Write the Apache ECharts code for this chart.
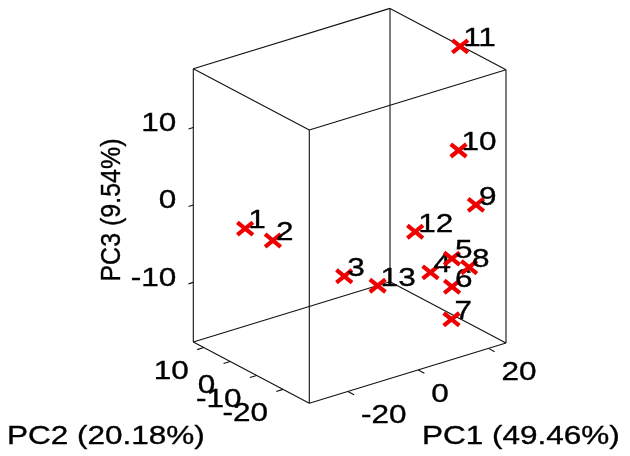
<!DOCTYPE html>
<html><head><meta charset="utf-8">
<script src="https://cdn.jsdelivr.net/npm/echarts@6/dist/echarts.min.js"></script>
<style>html,body{margin:0;padding:0;background:#fff}#c{width:630px;height:456px}</style>
</head><body><div id="c"></div>
<script>
// ---------- data ----------
const sampleIds = ['1','2','3','4','5','6','7','8','9','10','11','12','13'];
const pc1 = [-30.5, -25.6, -17.3, 17.0, 21.6, 19.4, 23.0, 22.0, 24.7, 23.5, 24.7, 10.4, -10.8];
const pc2 = [-5, -9, -25, -12, -14, -17, -12, -20, -19, -14, -13, -15, -29];
const pc3 = [0.3, -1.2, -4.1, -10.7, -9.2, -12.0, -17.6, -9.3, -1.8, 4.5, 17.6, -4.0, -5.5];
const pc1Ticks = [-20, 0, 20];
const pc2Ticks = [-20, -10, 0, 10];
const pc3Ticks = [-10, 0, 10];
const axisTitles = ['PC1 (49.46%)', 'PC2 (20.18%)', 'PC3 (9.54%)'];
const range1 = [-31, 25];
const range2 = [-30, 14];
const range3 = [-17.7, 17.6];

// ---------- camera (oblique projection onto the drawing plane) ----------
const O = [309.3, 403.3];          // corner (PC1 min, PC2 min, PC3 min)
const E1 = [196.7, -60.3];         // full span of PC1
const E2 = [-116, -61.3];          // full span of PC2
const E3 = [0, -273.3];            // full span of PC3
function proj(p1, p2, p3) {
  const a = (p1 - range1[0]) / (range1[1] - range1[0]);
  const b = (p2 - range2[0]) / (range2[1] - range2[0]);
  const c = (p3 - range3[0]) / (range3[1] - range3[0]);
  return [O[0] + a * E1[0] + b * E2[0] + c * E3[0],
          O[1] + a * E1[1] + b * E2[1] + c * E3[1]];
}
function unit(v) { const l = Math.hypot(v[0], v[1]); return [v[0] / l, v[1] / l]; }
const U1 = unit(E1), U2 = unit(E2);

const FONT = '25px "Liberation Sans", Arial, sans-serif';
const SX = 1.26;
const EDGE = '#111';
const TXT = { fill: '#000', stroke: '#000', lineWidth: 0.35 };

// box edges
const edges = [];
const R = [range1, range2, range3];
for (let i = 0; i < 8; i++) {
  for (let k = 0; k < 3; k++) {
    if (i & (1 << k)) continue;
    const j = i | (1 << k);
    const ci = [0, 1, 2].map(d => R[d][(i >> d) & 1]);
    const cj = [0, 1, 2].map(d => R[d][(j >> d) & 1]);
    edges.push([...proj(...ci), ...proj(...cj)]);
  }
}

function tickSeries(data, dir, len, lab) {
  return {
    type: 'custom', coordinateSystem: 'cartesian2d', clip: false, silent: true,
    encode: { x: 0, y: 1 }, data: data,
    renderItem: (params, api) => {
      const ex = api.value(0), ey = api.value(1);
      const p = api.coord([ex, ey]);
      const q = api.coord([ex + dir[0] * len, ey + dir[1] * len]);
      const t = api.coord([ex + lab.dx, ey + lab.dy]);
      return { type: 'group', children: [
        { type: 'line', shape: { x1: p[0], y1: p[1], x2: q[0], y2: q[1] }, style: { stroke: EDGE, lineWidth: 1.1 } },
        { type: 'text', x: t[0], y: t[1], scaleX: SX,
          style: Object.assign({ text: String(api.value(2)), font: FONT, align: lab.align, verticalAlign: 'middle' }, TXT) }
      ]};
    }
  };
}

const t1 = pc1Ticks.map(v => [...proj(v, range2[0], range3[0]), v]);
const t2 = pc2Ticks.map(v => [...proj(range1[0], v, range3[0]), v]);
const t3 = pc3Ticks.map(v => [...proj(range1[0], range2[1], v), v]);
const pts = pc1.map((v, i) => [...proj(pc1[i], pc2[i], pc3[i]), i]);

const chart = echarts.init(document.getElementById('c'), null, { renderer: 'canvas' });
chart.setOption({
  animation: false,
  backgroundColor: '#fff',
  grid: { left: 0, right: 0, top: 0, bottom: 0 },
  xAxis: { type: 'value', min: 0, max: 630, show: false },
  yAxis: { type: 'value', min: 0, max: 456, inverse: true, show: false },
  series: [
    {
      type: 'custom', coordinateSystem: 'cartesian2d', clip: false, silent: true,
      encode: { x: [0, 2], y: [1, 3] }, data: edges,
      renderItem: (params, api) => {
        const p = api.coord([api.value(0), api.value(1)]);
        const q = api.coord([api.value(2), api.value(3)]);
        return { type: 'line', shape: { x1: p[0], y1: p[1], x2: q[0], y2: q[1] }, style: { stroke: EDGE, lineWidth: 1.1 } };
      }
    },
    tickSeries(t1, [-U2[0], -U2[1]], 7, { dx: 13, dy: 25, align: 'left' }),
    tickSeries(t2, [-U1[0], -U1[1]], 7, { dx: -15, dy: 25, align: 'right' }),
    tickSeries(t3, [-U1[0], -U1[1]], 5, { dx: -17, dy: -3.5, align: 'right' }),
    {
      type: 'custom', coordinateSystem: 'cartesian2d', clip: false, silent: true,
      encode: { x: 0, y: 1 }, data: pts,
      renderItem: (params, api) => {
        const c = api.coord([api.value(0), api.value(1)]);
        const hx = 7.8, hy = 6.3;
        const st = { stroke: '#ee0000', lineWidth: 4.2 };
        return { type: 'group', children: [
          { type: 'line', shape: { x1: c[0] - hx, y1: c[1] - hy, x2: c[0] + hx, y2: c[1] + hy }, style: st },
          { type: 'line', shape: { x1: c[0] - hx, y1: c[1] + hy, x2: c[0] + hx, y2: c[1] - hy }, style: st },
          { type: 'text', x: c[0] + 3, y: c[1] - 7, scaleX: SX,
            style: Object.assign({ text: sampleIds[api.value(2)], font: FONT, align: 'left', verticalAlign: 'middle' }, TXT) }
        ]};
      }
    }
  ],
  graphic: [
    { type: 'text', x: 422, y: 437, scaleX: SX, silent: true,
      style: Object.assign({ text: axisTitles[0], font: FONT, align: 'left', textAlign: 'left', verticalAlign: 'middle', textVerticalAlign: 'middle' }, TXT) },
    { type: 'text', x: 7, y: 437, scaleX: SX, silent: true,
      style: Object.assign({ text: axisTitles[1], font: FONT, align: 'left', textAlign: 'left', verticalAlign: 'middle', textVerticalAlign: 'middle' }, TXT) },
    { type: 'text', x: 113, y: 210, rotation: Math.PI / 2, scaleY: 1.08, silent: true,
      style: Object.assign({ text: axisTitles[2], font: FONT, align: 'center', textAlign: 'center', verticalAlign: 'middle', textVerticalAlign: 'middle' }, TXT) }
  ]
});
</script>
</body></html>
